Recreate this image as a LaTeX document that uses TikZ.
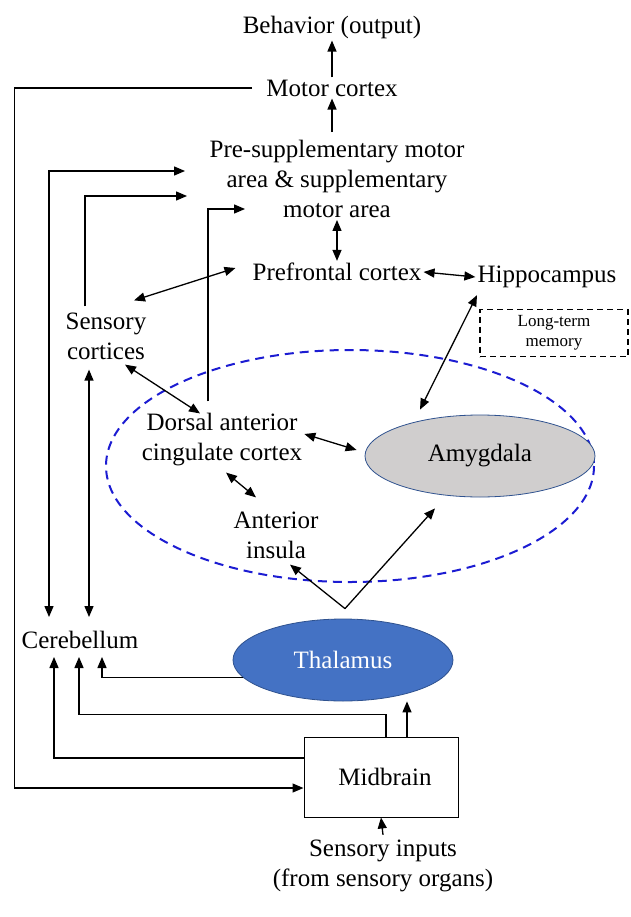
\documentclass[tikz,border=0pt]{standalone}
\usepackage{fontspec}
\setmainfont{Liberation Serif}
\usetikzlibrary{arrows.meta,shapes.geometric}
\definecolor{limbicblue}{RGB}{28,28,210}
\definecolor{thalblue}{RGB}{68,114,196}
\definecolor{edgeblue}{RGB}{47,82,143}
\definecolor{amygray}{RGB}{208,206,206}
\tikzset{
  txt/.style={inner sep=2pt,font=\fontsize{25}{30}\selectfont,align=center},
  arr/.style={line width=1.3pt,-{Triangle[length=11pt,width=9pt]}},
  dbl/.style={line width=1.3pt,{Triangle[length=11pt,width=9pt]}-{Triangle[length=11pt,width=9pt]}},
  memo/.style={draw,line width=1.2pt,dash pattern=on 6pt off 4pt,minimum width=148pt,minimum height=47pt,inner sep=0pt,
    font=\fontsize{17}{20}\selectfont,align=center},
  limbic/.style={draw=limbicblue,line width=2pt,dash pattern=on 9pt off 6pt},
}
\begin{document}
\begin{tikzpicture}[x=1pt,y=-1pt]
\useasboundingbox(0,0)rectangle(630,917);
% cortical nodes
\node[txt](beh)at(332,27){Behavior (output)};
\node[txt](mot)at(332,88){Motor cortex};
\node[txt](sma)at(337,179){Pre-supplementary motor\\area \& supplementary\\motor area};
\node[txt](pfc)at(337,272){Prefrontal cortex};
\node[txt](hip)at(547,277){Hippocampus};
\node[memo](ltm)at(554,333){Long-term\\memory};
\node[txt](sen)at(106,336){Sensory\\cortices};
% limbic region
\draw[limbic](350,466)ellipse[x radius=244,y radius=116];
\node[txt](dacc)at(222,440){Dorsal anterior\\cingulate cortex};
\node[txt,ellipse,draw=edgeblue,line width=0.8pt,fill=amygray,minimum width=230pt,minimum height=82pt,inner sep=0pt]
  (amy)at(480,456){Amygdala};
\node[txt](ins)at(276,535){Anterior\\insula};
% lower nodes
\node[txt,ellipse,draw=edgeblue,line width=0.8pt,fill=thalblue,text=white,minimum width=220pt,minimum height=82pt,inner sep=0pt]
  (tha)at(343,660){Thalamus};
\node[txt](cer)at(80,640){Cerebellum};
\node[txt,draw,line width=1pt,minimum width=154pt,minimum height=80pt](mid)at(381,777){\hspace*{8pt}Midbrain};
\node[txt](inp)at(383,866){Sensory inputs\\(from sensory organs)};
% free ends
\coordinate(s1)at([xshift=-152pt,yshift=8pt]sma.center);
\coordinate(s2)at([xshift=-150pt,yshift=-17pt]sma.center);
\coordinate(s3)at([xshift=-92pt,yshift=-30pt]sma.center);
\coordinate(tfork)at([xshift=2pt,yshift=10pt]tha.north);
\coordinate(mtop)at([xshift=26pt]mid.north);
% connectors
\draw[arr](mot.north)--(beh.south);
\draw[arr]([xshift=-5pt,yshift=6pt]sma.north)--(mot.south);
\draw[dbl](sma.south)--(pfc.north);
\draw[dbl](pfc.east)--(hip.west);
\draw[arr]([xshift=-12pt]mot.west)--++(-238,0)|-([yshift=-11pt]mid.west);
\draw[dbl](s1)-|([xshift=-31pt,yshift=12pt]cer.north);
\draw[arr]([xshift=-21pt,yshift=4pt]sen.north)|-(s2);
\draw[arr]([xshift=-14pt,yshift=10pt]dacc.north)|-(s3);
\draw[dbl]([xshift=-17pt,yshift=-8pt]sen.south)--([xshift=9pt,yshift=12pt]cer.north);
\draw[dbl]([xshift=28pt,yshift=10pt]sen.north)--([xshift=-15pt,yshift=4pt]pfc.west);
\draw[dbl]([xshift=19pt,yshift=-3pt]sen.south)--([xshift=-22pt,yshift=-2pt]dacc.north);
\draw[dbl]([yshift=6pt]dacc.east)--([xshift=-8pt,yshift=6pt]amy.west);
\draw[dbl]([xshift=4pt,yshift=-4pt]dacc.south)--([xshift=-20pt,yshift=12pt]ins.north);
\draw[dbl]([xshift=-70pt,yshift=-5pt]hip.south)--([xshift=-60pt,yshift=5pt]amy.north);
\draw[arr](tfork)--([xshift=14pt,yshift=-4pt]ins.south);
\draw[arr](tfork)--([xshift=-45pt,yshift=-11pt]amy.south);
\draw[arr](tha.190)-|([xshift=22pt,yshift=-6pt]cer.south);
\draw[arr]([xshift=5pt]mid.north)--++(0,-22)-|([xshift=-1pt,yshift=-6pt]cer.south);
\draw[arr]([yshift=19pt]mid.west)-|([xshift=-26pt,yshift=-6pt]cer.south);
\draw[arr](mtop)--(mtop|-tha.south);
\draw[arr]([yshift=3pt]inp.north)--(mid.south);
\end{tikzpicture}
\end{document}
